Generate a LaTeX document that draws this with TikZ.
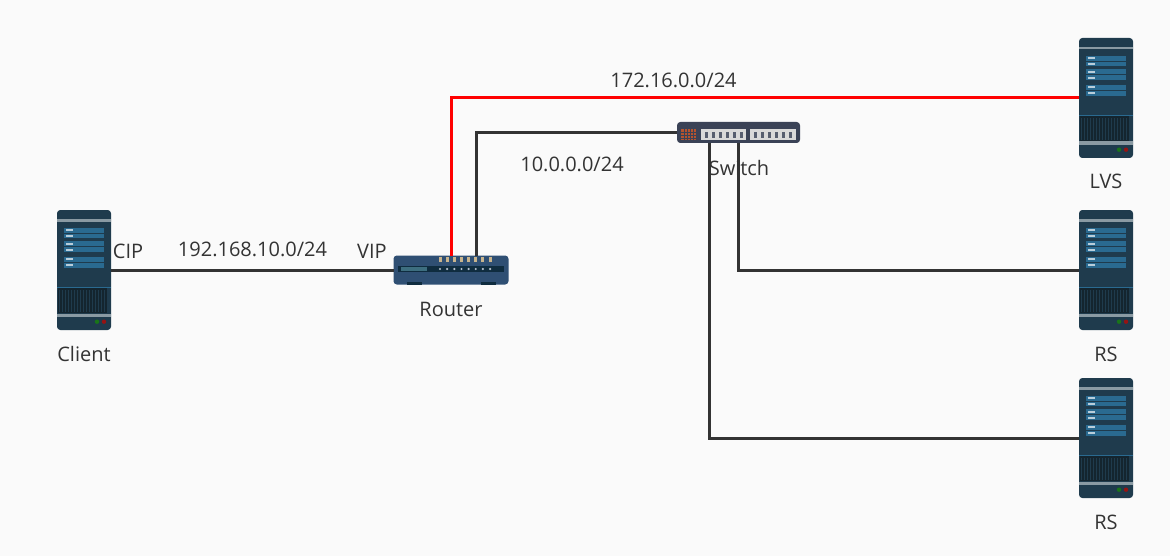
\documentclass[tikz,border=0pt]{standalone}
\usepackage{fontspec}
\setmainfont{Open Sans}
\usetikzlibrary{calc}
\definecolor{bgc}{HTML}{FAFAFA}
\definecolor{linec}{HTML}{333333}
\definecolor{srv}{HTML}{1F3B4D}
\definecolor{srvdark}{HTML}{14252F}
\definecolor{srvblue}{HTML}{2A6A90}
\definecolor{srvtick}{HTML}{B9CEDB}
\definecolor{srvband}{HTML}{8A9AA3}
\definecolor{rtr}{HTML}{2F4F73}
\definecolor{rtrdark}{HTML}{0F2C3F}
\definecolor{rtrbar}{HTML}{3D6E7F}
\definecolor{rtrtan}{HTML}{C9B48C}
\definecolor{swbody}{HTML}{3A4256}
\definecolor{swport}{HTML}{D9D9D9}
\definecolor{swgrid}{HTML}{B5532E}
\tikzset{
  x=0.75pt,y=-0.75pt,
  lbl/.style={font=\fontsize{15pt}{18pt}\selectfont,text=linec,inner sep=0pt,anchor=center},
  wire/.style={draw=linec,line width=2.25pt},
  redwire/.style={draw=red,line width=2.25pt},
  serverbody/.style={fill=srv,draw=none,rounded corners=2.5pt,minimum width=40.5pt,minimum height=90pt,inner sep=0pt,outer sep=0pt},
  routerbody/.style={fill=rtr,draw=none,rounded corners=2.5pt,minimum width=86.25pt,minimum height=21.75pt,inner sep=0pt,outer sep=0pt},
  switchbody/.style={fill=swbody,draw=none,rounded corners=2.5pt,minimum width=92.25pt,minimum height=15.75pt,inner sep=0pt,outer sep=0pt}
}
\newcommand{\serverdetail}[2]{%
  \begin{scope}[shift={(#1,#2)}]
    \fill[srvband] (0,9) rectangle (54,11.5);
    \foreach \a/\b in {17.7/22.7,23.7/28.3,31.3/36.3,37.3/42.3,46.7/51.7,52.7/57.7}{
      \fill[srvblue] (7,\a) rectangle (46.5,\b);
      \fill[srvtick] (9,\a+1.5) rectangle (16,\b-1.5);
    }
    \fill[srvblue] (0,77) rectangle (54,78);
    \fill[srvdark] (0.7,78) rectangle (50,103);
    \foreach \k in {2,5,...,47}{\fill[srv] (\k,80) rectangle (\k+0.9,102);}
    \fill[srvband] (0,103.5) rectangle (54,107);
    \fill[green!45!black!80!gray] (40,111.7) circle (2.2);
    \fill[red!60!black!85!gray] (47,111.7) circle (2.2);
  \end{scope}}
\begin{document}
\begin{tikzpicture}
\useasboundingbox (0,0) rectangle (1170,556);
\fill[bgc] (0,0) rectangle (1170,556);
% equipment
\node[serverbody] (client) at (84,270) {};
\node[serverbody] (lvs) at (1106,98) {};
\node[serverbody] (rsa) at (1106,270) {};
\node[serverbody] (rsb) at (1106,438) {};
\node[routerbody] (router) at (451,270) {};
\node[switchbody] (switch) at (738.5,132.5) {};
\coordinate (routerB) at (476,255.5);
\coordinate (switchA) at (709,143);
\coordinate (switchB) at (738.5,143);
% connectors
\draw[wire] (client.east) -- (router.west);
\draw[redwire] (router.north) |- (lvs.west);
\draw[wire] (routerB) |- (switch.west);
\draw[wire] (switchA) |- (rsb.west);
\draw[wire] (switchB) |- (rsa.west);
% server details
\serverdetail{57}{210}
\serverdetail{1079}{38}
\serverdetail{1079}{210}
\serverdetail{1079}{378}
% router details
\fill[rtrdark] (398,266) rectangle (504,272);
\fill[rtrbar] (401,267) rectangle (427,271);
\foreach \k in {0,...,7}{
  \fill[white!65!rtr] (440+7.15*\k,269) circle (1.2);
  \fill[rtrtan] (438.5+7.15*\k,256.5) rectangle (441.5+7.15*\k,261.5);
}
\fill[rtrdark] (407,282) rectangle (422,284.5);
\fill[rtrdark] (481,282) rectangle (496,284.5);
% switch details
\fill[swgrid] (681,129) rectangle (696,140);
\foreach \k in {0,...,3}{\draw[swbody,line width=0.3pt] (684+3*\k,129) -- (684+3*\k,140);}
\foreach \k in {0,1,2}{\draw[swbody,line width=0.3pt] (681,132+3*\k) -- (696,132+3*\k);}
\fill[swport] (701,129) rectangle (746,140);
\fill[swport] (750,129) rectangle (796,140);
\foreach \s in {703,752}{\foreach \k in {0,...,5}{
  \fill[swbody!85!white] (\s+1.5+7*\k,132) rectangle (\s+4.5+7*\k,138);
}}
% labels
\node[lbl] (lClient) at (84,353.5) {Client};
\node[lbl] (lLVS) at (1106,181) {LVS};
\node[lbl] (lRSa) at (1106,354) {RS};
\node[lbl] (lRSb) at (1106,522) {RS};
\node[lbl] (lRouter) at (451,309) {Router};
\node[lbl] (lSwitch) at (739,168) {Switch};
\node[lbl] (lCIP) at (128,251) {CIP};
\node[lbl] (lVIP) at (372,251) {VIP};
\node[lbl] (lNetA) at (252.5,249) {192.168.10.0/24};
\node[lbl] (lNetB) at (673.5,80) {172.16.0.0/24};
\node[lbl] (lNetC) at (572,164) {10.0.0.0/24};
\end{tikzpicture}
\end{document}
